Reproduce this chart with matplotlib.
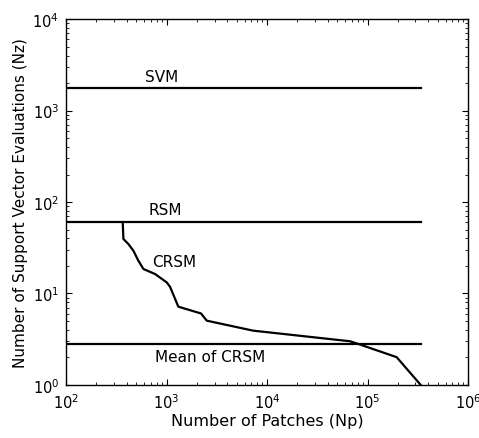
import matplotlib
matplotlib.use('Agg')
import matplotlib.pyplot as plt
import numpy as np

# CRSM curve
crsm_np = [366, 372, 417, 468, 524, 589, 769, 1005, 1084, 1309, 2203, 2512, 7260, 67000, 80400, 195000, 338000]
crsm_nz = [60, 39.4, 34.7, 29.3, 22.8, 18.5, 16.3, 13.2, 11.8, 7.17, 6.04, 5.04, 3.92, 3.0, 2.81, 2.01, 1.0]

# horizontal reference levels
x_span = [100, 340000]
svm_nz = 1760
rsm_nz = 60
mean_crsm_nz = 2.8

plt.rcParams['font.family'] = ['DejaVu Sans']
plt.rcParams['font.size'] = 11.5
plt.rcParams['mathtext.fontset'] = 'dejavusans'

fig = plt.figure(figsize=(4.79, 4.39), dpi=100)
ax = fig.add_axes([0.138, 0.121, 0.839, 0.833])

lw = 1.6
ax.plot(x_span, [svm_nz, svm_nz], color='black', lw=lw)
ax.plot(x_span, [rsm_nz, rsm_nz], color='black', lw=lw)
ax.plot(x_span, [mean_crsm_nz, mean_crsm_nz], color='black', lw=lw)
ax.plot(crsm_np, crsm_nz, color='black', lw=lw)

ax.set_xscale('log')
ax.set_yscale('log')
ax.set_xlim(1e2, 1e6)
ax.set_ylim(1e0, 1e4)

# labels on the lines
ax.text(896, 2350, 'SVM', ha='center', va='center', fontsize=11)
ax.text(966, 82, 'RSM', ha='center', va='center', fontsize=11)
ax.text(1189, 22.6, 'CRSM', ha='center', va='center', fontsize=11)
ax.text(2710, 2.02, 'Mean of CRSM', ha='center', va='center', fontsize=11)

ax.set_xlabel('Number of Patches (Np)', labelpad=2)
ax.set_ylabel('Number of Support Vector Evaluations (Nz)', labelpad=3, fontsize=11)

ax.tick_params(which='both', direction='in', top=True, right=True, labelsize=10.5)
ax.tick_params(which='major', length=4, pad=5)
ax.tick_params(which='minor', length=2)
for s in ax.spines.values():
    s.set_linewidth(1.0)

plt.savefig('out.png', dpi=100)
